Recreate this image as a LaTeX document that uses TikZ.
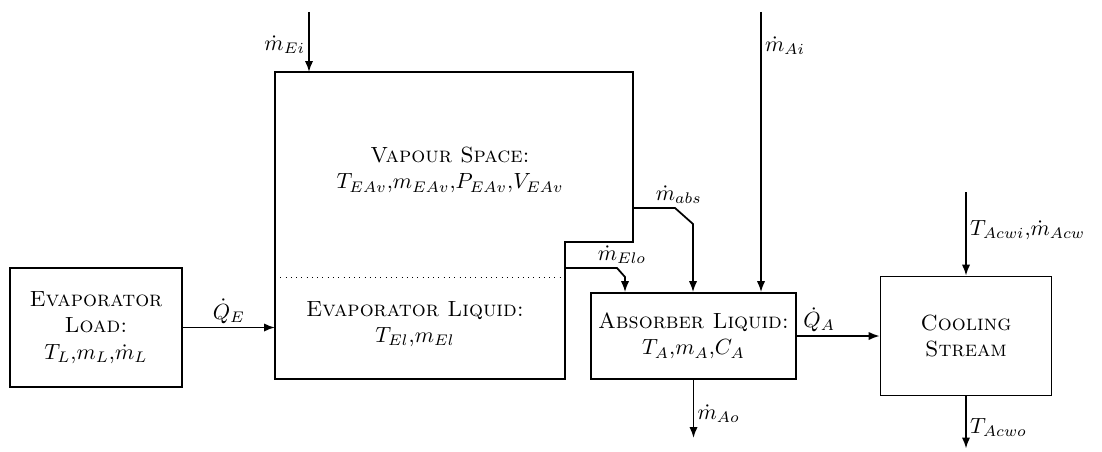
\documentclass[tikz,border=0pt]{standalone}
\usepackage{amsmath,amssymb}
\usetikzlibrary{arrows.meta,positioning}

\begin{document}
\begin{tikzpicture}[
  box/.style={draw,thick,align=center,inner sep=2pt},
  arr/.style={-{Latex[length=5pt,width=3.8pt]},thick},
  lbl/.style={inner sep=1.5pt}]
\useasboundingbox (0,0) rectangle (17.632,7.216);
% evaporator / absorber shell
\coordinate (ea) at (4.4,6.064);
\coordinate (eb) at (10.128,6.064);
\coordinate (ec) at (10.128,3.344);
\coordinate (ed) at (9.04,3.344);
\coordinate (ee) at (9.04,1.152);
\coordinate (ef) at (4.4,1.152);
\draw[thick] (ea) -- (eb) -- (ec) -- (ed) -- (ee) -- (ef) -- cycle;
\coordinate (dl) at (4.4,2.784);
\draw[dotted] (dl) -- (dl -| ee);
\node[align=center] (vap) at (7.2,4.496) {\textsc{Vapour Space:}\\$T_{EAv}$,$m_{EAv}$,$P_{EAv}$,$V_{EAv}$};
\node[align=center] (liq) at (6.64,2.032) {\textsc{Evaporator Liquid:}\\$T_{El}$,$m_{El}$};
\node[box,minimum width=2.752cm,minimum height=1.904cm] (load) at (1.536,1.976) {\textsc{Evaporator}\\\textsc{Load:}\\$T_L$,$m_L$,$\dot{m}_L$};
\node[box,minimum width=3.28cm,minimum height=1.376cm] (abs) at (11.096,1.84) {\textsc{Absorber Liquid:}\\$T_A$,$m_A$,$C_A$};
\node[box,minimum width=2.736cm,minimum height=1.904cm] (cool) at (15.456,1.84) {\textsc{Cooling}\\\textsc{Stream}};
% flows
\coordinate (ei) at (4.944,7.024);
\draw[arr] (ei) -- (ei |- ea) node[lbl,pos=0.55,left] {$\dot{m}_{Ei}$};
\coordinate (ai) at (12.176,7.024);
\draw[arr] (ai) -- (ai |- abs.north) node[lbl,pos=0.12,right] {$\dot{m}_{Ai}$};
\coordinate (vo) at (10.128,3.888);
\coordinate (vb) at (11.088,3.632);
\draw[arr] (vo) -- ++(0.672,0) node[lbl,above,xshift=0.6mm] {$\dot{m}_{abs}$} -- (vb) -- (vb |- abs.north);
\coordinate (lo) at (9.04,2.928);
\coordinate (lb) at (10.0,2.784);
\draw[arr] (lo) -- ++(0.832,0) node[lbl,above,xshift=0.8mm] {$\dot{m}_{Elo}$} -- (lb) -- (lb |- abs.north);
\coordinate (ao) at (11.096,0.208);
\draw[arr] (abs.south) -- (ao) node[lbl,pos=0.58,right] {$\dot{m}_{Ao}$};
\draw[arr] (load.east) -- (load.east -| ef) node[lbl,midway,above] {$\dot{Q}_E$};
\draw[arr] (abs.east) -- (cool.west) node[lbl,pos=0.27,above] {$\dot{Q}_A$};
\coordinate (ci) at (15.456,4.144);
\draw[arr] (ci) -- (cool.north) node[lbl,pos=0.45,right] {$T_{Acwi}$,$\dot{m}_{Acw}$};
\coordinate (co) at (15.456,0.04);
\draw[arr] (cool.south) -- (co) node[lbl,pos=0.6,right] {$T_{Acwo}$};
\end{tikzpicture}
\end{document}
